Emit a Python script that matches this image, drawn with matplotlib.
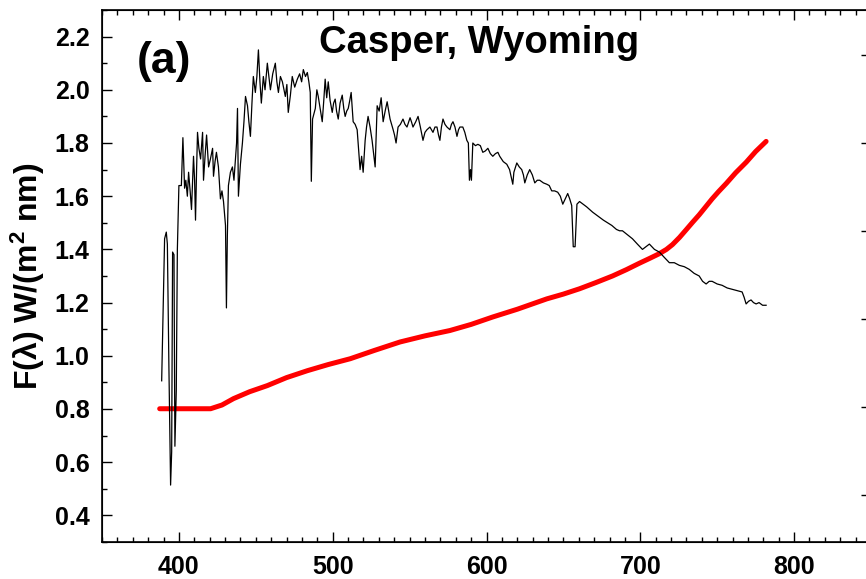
import matplotlib
matplotlib.use("Agg")
import matplotlib.pyplot as plt
import numpy as np
from matplotlib.ticker import MultipleLocator, FormatStrFormatter

# ---- data ----
spec_wl = [388.8, 389.9, 390.7, 391.8, 392.5, 393.5, 394.6, 395.3, 395.9, 396.8,
           397.4, 398.3, 399.0, 400.0, 401.6, 402.6, 403.7, 404.5, 405.5, 406.3,
           407.3, 408.2, 409.5, 410.2, 410.8, 411.5, 412.1, 413.0, 414.1, 415.4,
           416.0, 417.0, 418.0, 419.3, 420.5, 421.9, 422.5, 423.5, 424.4, 425.7,
           427.0, 428.0, 429.0, 430.3, 430.9, 431.5, 432.2, 433.5, 434.8, 435.8,
           436.8, 437.5, 438.1, 438.7, 440.0, 441.3, 442.3, 443.3, 444.6, 445.5,
           446.5, 447.5, 448.4, 449.7, 450.7, 451.7, 452.7, 453.6, 454.9, 456.0,
           457.5, 458.5, 459.5, 461.0, 462.7, 463.7, 464.7, 466.0, 467.3, 468.3,
           469.2, 470.2, 471.1, 472.5, 473.7, 475.3, 477.0, 478.5, 479.8, 480.9,
           482.3, 483.5, 484.5, 485.4, 486.1, 486.9, 488.7, 489.7, 490.6, 491.8,
           493.2, 494.2, 495.1, 496.1, 497.1, 498.3, 499.7, 500.6, 501.6, 502.5,
           503.6, 504.8, 506.2, 507.2, 508.1, 509.1, 510.1, 511.1, 512.0, 513.3,
           514.6, 515.9, 516.8, 517.8, 518.8, 519.8, 521.1, 522.0, 523.0, 524.3,
           525.6, 526.6, 527.6, 528.9, 530.2, 531.5, 532.8, 534.1, 535.4, 536.4,
           537.3, 538.3, 539.3, 540.2, 541.2, 542.5, 544.0, 545.7, 547.0, 548.3,
           550.3, 551.2, 552.2, 554.0, 555.5, 557.0, 558.7, 560.0, 561.3, 563.2,
           565.2, 566.5, 567.8, 568.8, 569.7, 570.7, 571.7, 573.0, 574.3, 576.2,
           577.2, 578.2, 579.5, 580.8, 581.8, 582.7, 584.6, 585.9, 587.2, 588.2,
           588.9, 589.6, 590.2, 591.1, 592.8, 594.4, 596.0, 597.6, 599.2, 600.9,
           602.5, 604.1, 605.8, 607.4, 608.6, 610.9, 613.2, 615.0, 617.1, 617.8,
           619.7, 621.3, 622.9, 624.0, 624.9, 626.5, 628.1, 629.8, 631.4, 633.0,
           634.6, 637.0, 639.2, 640.8, 642.4, 644.3, 646.3, 648.0, 649.6, 651.2,
           652.8, 654.1, 655.4, 656.4, 657.6, 658.8, 660.5, 662.8, 665.1, 667.0,
           669.0, 671.3, 673.5, 676.0, 678.7, 681.5, 684.5, 686.5, 688.4, 691.6,
           694.9, 698.1, 701.4, 703.6, 705.9, 709.2, 712.4, 715.6, 718.9, 722.1,
           725.4, 728.6, 731.8, 735.0, 738.3, 740.5, 742.8, 744.8, 746.7, 750.0,
           753.2, 756.5, 759.7, 763.0, 766.2, 767.5, 768.8, 770.4, 772.0, 773.6,
           775.3, 777.2, 779.5, 781.8]
spec_flux = [0.906, 1.21, 1.44, 1.465, 1.42, 0.96, 0.514, 0.64, 1.39, 1.38,
             0.66, 0.87, 1.40, 1.64, 1.64, 1.82, 1.63, 1.66, 1.60, 1.69,
             1.62, 1.55, 1.75, 1.66, 1.51, 1.70, 1.84, 1.78, 1.74, 1.84,
             1.66, 1.75, 1.83, 1.71, 1.74, 1.78, 1.675, 1.73, 1.765, 1.71,
             1.59, 1.62, 1.58, 1.49, 1.18, 1.45, 1.64, 1.69, 1.71, 1.66,
             1.74, 1.80, 1.93, 1.60, 1.72, 1.80, 1.88, 1.975, 1.94, 1.88,
             1.825, 1.95, 2.05, 1.99, 2.05, 2.15, 2.03, 1.95, 2.05, 2.00,
             2.10, 2.05, 2.00, 2.06, 2.10, 2.03, 1.99, 2.05, 2.03, 2.00,
             1.975, 2.02, 1.915, 1.98, 2.05, 2.01, 2.04, 2.06, 2.03, 2.076,
             2.05, 2.065, 2.03, 1.99, 1.656, 1.89, 1.93, 2.00, 1.975, 1.93,
             1.88, 1.96, 2.04, 1.97, 2.03, 1.96, 1.915, 1.95, 1.965, 1.92,
             1.89, 1.95, 1.98, 1.93, 1.90, 1.92, 1.93, 1.96, 1.99, 1.88,
             1.87, 1.85, 1.78, 1.70, 1.75, 1.69, 1.81, 1.86, 1.90, 1.86,
             1.81, 1.76, 1.71, 1.94, 1.92, 1.97, 1.88, 1.92, 1.955, 1.92,
             1.89, 1.87, 1.85, 1.83, 1.80, 1.86, 1.87, 1.89, 1.87, 1.86,
             1.895, 1.88, 1.86, 1.88, 1.90, 1.86, 1.81, 1.84, 1.85, 1.86,
             1.84, 1.86, 1.86, 1.83, 1.81, 1.86, 1.89, 1.87, 1.86, 1.85,
             1.87, 1.88, 1.86, 1.825, 1.85, 1.86, 1.86, 1.84, 1.81, 1.80,
             1.66, 1.70, 1.66, 1.80, 1.79, 1.795, 1.79, 1.765, 1.77, 1.78,
             1.76, 1.75, 1.76, 1.765, 1.75, 1.73, 1.72, 1.70, 1.645, 1.69,
             1.725, 1.71, 1.70, 1.68, 1.65, 1.68, 1.70, 1.68, 1.65, 1.66,
             1.66, 1.65, 1.645, 1.64, 1.62, 1.62, 1.615, 1.60, 1.57, 1.59,
             1.61, 1.59, 1.565, 1.41, 1.41, 1.57, 1.58, 1.57, 1.56, 1.55,
             1.54, 1.53, 1.52, 1.51, 1.50, 1.49, 1.475, 1.47, 1.47, 1.455,
             1.44, 1.42, 1.40, 1.41, 1.42, 1.40, 1.39, 1.37, 1.35, 1.35,
             1.34, 1.335, 1.325, 1.31, 1.30, 1.28, 1.27, 1.28, 1.28, 1.27,
             1.265, 1.255, 1.25, 1.245, 1.24, 1.22, 1.195, 1.205, 1.21, 1.20,
             1.195, 1.20, 1.19, 1.19]

red_wl = [387.5, 400.0, 410.0, 420.6, 428.0, 435.5, 446.0, 457.5, 470.0, 483.5,
          497.0, 511.4, 527.0, 543.8, 560.0, 576.2, 590.0, 604.1, 620.0, 639.2,
          650.0, 660.5, 671.0, 681.9, 691.0, 699.4, 706.0, 712.4, 717.0, 720.9,
          725.5, 730.0, 734.0, 738.3, 742.5, 746.7, 751.0, 755.9, 762.0, 768.9,
          775.0, 781.8]
red_val = [0.801, 0.801, 0.801, 0.801, 0.815, 0.839, 0.865, 0.888, 0.918, 0.944,
           0.967, 0.989, 1.020, 1.052, 1.075, 1.095, 1.118, 1.146, 1.175, 1.214,
           1.232, 1.252, 1.275, 1.300, 1.324, 1.348, 1.366, 1.384, 1.400, 1.418,
           1.445, 1.475, 1.502, 1.530, 1.560, 1.590, 1.618, 1.648, 1.688, 1.728,
           1.768, 1.806]

x_ticks = [400, 500, 600, 700, 800]
y_ticks = [0.4, 0.6, 0.8, 1.0, 1.2, 1.4, 1.6, 1.8, 2.0, 2.2]
title_text = "Casper, Wyoming"
panel_text = "(a)"
ylabel_text = r"F(λ) W/(m$^{\mathbf{2}}$ nm)"

# ---- style ----
plt.rcParams['font.family'] = ['Liberation Sans', 'DejaVu Sans']
plt.rcParams['font.weight'] = 'bold'
plt.rcParams['mathtext.fontset'] = 'custom'
plt.rcParams['mathtext.rm'] = 'Liberation Sans:bold'
plt.rcParams['mathtext.bf'] = 'Liberation Sans:bold'
plt.rcParams['mathtext.it'] = 'Liberation Sans:bold'

W, H = 866, 579
fig = plt.figure(figsize=(W / 100, H / 100), dpi=100)
left_px, right_px, top_px, bot_px = 102, 871, 10, 542
ax = fig.add_axes([left_px / W, (H - bot_px) / H,
                   (right_px - left_px) / W, (bot_px - top_px) / H])

ax.plot(red_wl, red_val, color='#ff0000', lw=3.6, solid_capstyle='round',
        solid_joinstyle='round', zorder=2)
ax.plot(spec_wl, spec_flux, color='black', lw=0.9, zorder=3)

ax.set_xlim(350, 850)
ax.set_ylim(0.3, 2.3)
ax.set_xticks(x_ticks)
ax.set_yticks(y_ticks)
ax.xaxis.set_minor_locator(MultipleLocator(10))
ax.yaxis.set_minor_locator(MultipleLocator(0.1))
ax.yaxis.set_major_formatter(FormatStrFormatter('%.1f'))
ax.tick_params(which='both', direction='in', top=True, right=False, width=1.0,
               labelsize=18, pad=9)
ax.tick_params(which='major', length=7)
ax.tick_params(which='minor', length=3.5)
for lab in ax.get_xticklabels() + ax.get_yticklabels():
    lab.set_fontweight('bold')
for sp in ax.spines.values():
    sp.set_linewidth(1.2)

# right-hand axis ticks (labels fall outside the cropped picture)
ax2 = ax.twinx()
ax2.set_ylim(0, (bot_px - top_px) / 88.0)
ax2.set_yticks(np.arange(0.534, 6.0, 1.0))
ax2.tick_params(which='both', direction='in', labelright=False, width=1.0)
ax2.tick_params(which='major', length=7)

ax.set_ylabel(ylabel_text, fontsize=23, fontweight='bold')
ax.yaxis.set_label_coords(-0.071, 0.50)

ax.text(0.490, 0.919, title_text, transform=ax.transAxes, ha='center',
        va='baseline', fontsize=27.5, fontweight='bold')
ax.text(0.080, 0.882, panel_text, transform=ax.transAxes, ha='center',
        va='baseline', fontsize=32, fontweight='bold')

fig.savefig('out.png', dpi=100)
